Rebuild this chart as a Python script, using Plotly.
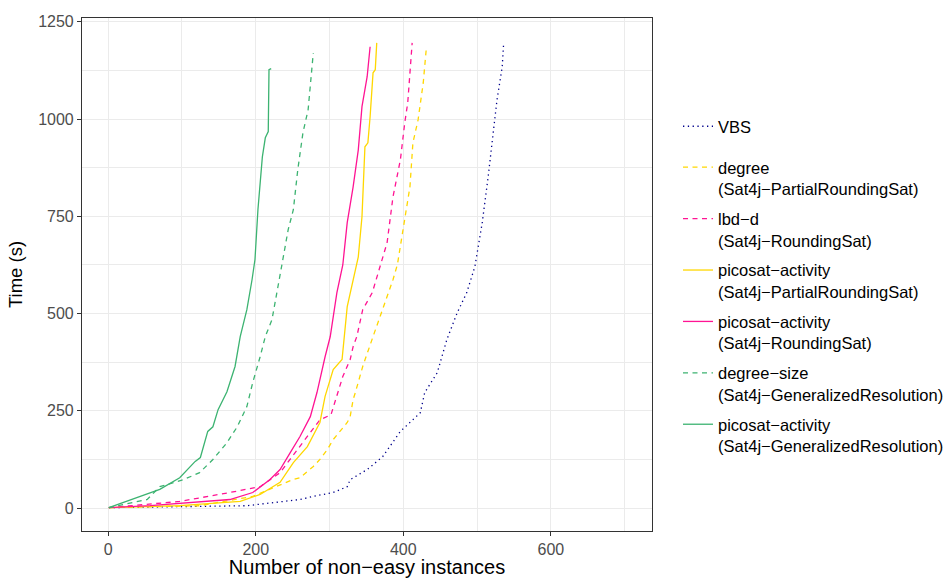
import plotly.graph_objects as go

# ---- data ----
vbs_x = [1, 97, 188, 260, 278, 305, 324, 328, 351, 372, 396, 423, 429, 446, 459, 473, 486, 497, 507, 515, 520, 527, 534, 536]
vbs_y = [1, 4, 6, 22, 30, 40, 55, 73, 99, 132, 197, 245, 297, 348, 433, 502, 554, 621, 734, 852, 939, 1050, 1134, 1196]

deg_prs_x = [1, 124, 196, 250, 260, 278, 287, 297, 305, 324, 328, 332, 335, 345, 359, 372, 386, 392, 400, 409, 413, 420, 427, 431]
deg_prs_y = [1, 6, 30, 73, 78, 107, 125, 150, 176, 220, 235, 279, 297, 364, 441, 510, 587, 626, 716, 826, 939, 998, 1093, 1178]

lbd_rs_x = [1, 97, 165, 206, 233, 260, 287, 302, 314, 318, 328, 332, 337, 345, 358, 368, 378, 386, 396, 402, 406, 412]
lbd_rs_y = [1, 17, 40, 55, 91, 158, 227, 240, 312, 338, 382, 415, 441, 510, 554, 618, 682, 800, 895, 991, 1042, 1196]

pico_prs_x = [1, 97, 179, 206, 233, 251, 270, 287, 294, 305, 317, 324, 339, 344, 348, 352, 355, 359, 362, 364]
pico_prs_y = [1, 6, 17, 35, 66, 117, 158, 220, 287, 356, 382, 518, 646, 749, 929, 939, 1006, 1119, 1127, 1196]

pico_rs_x = [1, 57, 165, 196, 219, 233, 247, 260, 274, 283, 294, 301, 310, 318, 324, 332, 339, 344, 351, 352, 355]
pico_rs_y = [1, 6, 22, 40, 73, 99, 143, 184, 235, 297, 389, 441, 554, 625, 734, 826, 921, 1032, 1109, 1127, 1186]

degsz_gr_x = [1, 53, 70, 102, 124, 142, 161, 175, 188, 196, 206, 213, 222, 229, 236, 244, 251, 257, 264, 271, 274, 278]
degsz_gr_y = [1, 22, 55, 73, 91, 125, 168, 209, 261, 323, 389, 441, 484, 554, 631, 716, 767, 870, 965, 1024, 1083, 1170]

pico_gr_x = [1, 70, 97, 118, 125, 135, 142, 149, 161, 172, 179, 188, 195, 199, 203, 209, 213, 217, 218, 221]
pico_gr_y = [1, 48, 78, 120, 130, 197, 209, 253, 299, 364, 441, 510, 587, 639, 767, 903, 952, 968, 1127, 1130]

x_ticks = [0, 200, 400, 600]
x_minor = [100, 300, 500, 700]
y_ticks = [0, 250, 500, 750, 1000, 1250]
y_minor = [125, 375, 625, 875, 1125]

YELLOW = "#FFD700"
PINK = "#FF1493"
GREEN = "#3CB371"
NAVY = "#00008B"
DASH = "5px,4.5px"
DOT = "1.3px,3.5px"

series = [
    ("VBS", vbs_x, vbs_y, NAVY, DOT, "legend"),
    ("degree<br>(Sat4j\u2212PartialRoundingSat)", deg_prs_x, deg_prs_y, YELLOW, DASH, "legend2"),
    ("lbd\u2212d<br>(Sat4j\u2212RoundingSat)", lbd_rs_x, lbd_rs_y, PINK, DASH, "legend2"),
    ("picosat\u2212activity<br>(Sat4j\u2212PartialRoundingSat)", pico_prs_x, pico_prs_y, YELLOW, "solid", "legend2"),
    ("picosat\u2212activity<br>(Sat4j\u2212RoundingSat)", pico_rs_x, pico_rs_y, PINK, "solid", "legend2"),
    ("degree\u2212size<br>(Sat4j\u2212GeneralizedResolution)", degsz_gr_x, degsz_gr_y, GREEN, DASH, "legend2"),
    ("picosat\u2212activity<br>(Sat4j\u2212GeneralizedResolution)", pico_gr_x, pico_gr_y, GREEN, "solid", "legend2"),
]

fig = go.Figure()
for i, (name, xs, ys, col, dash, lg) in enumerate(series):
    fig.add_trace(go.Scatter(
        x=xs, y=ys, mode="lines", name=name,
        line=dict(color=col, width=1.3, dash=dash),
        legend=lg, legendgroup="g%d" % i, showlegend=True,
    ))

FONT = "Liberation Sans, Arial, sans-serif"
axis_common = dict(
    showgrid=True, gridcolor="#ebebeb", gridwidth=1.1,
    showline=True, linecolor="#333333", linewidth=1.1, mirror=True,
    ticks="outside", ticklen=4, tickcolor="#333333", tickwidth=1.1,
    tickfont=dict(size=16, color="#4d4d4d", family=FONT),
    zeroline=False, automargin=False,
)

W, H = 952, 578
fig.update_layout(
    width=W, height=H,
    margin=dict(l=82, r=300, t=18, b=47),
    paper_bgcolor="white", plot_bgcolor="white",
    font=dict(family=FONT, color="black"),
    showlegend=True,
    xaxis=dict(
        range=[-35.4, 737], tickvals=x_ticks,
        minor=dict(tickvals=x_minor, showgrid=True, gridcolor="#ebebeb", gridwidth=0.6),
        title=dict(text="Number of non\u2212easy instances", font=dict(size=20, family=FONT, color="black"), standoff=10),
        **axis_common,
    ),
    yaxis=dict(
        range=[-59, 1260], tickvals=y_ticks,
        minor=dict(tickvals=y_minor, showgrid=True, gridcolor="#ebebeb", gridwidth=0.6),
        title=dict(text="Time (s)", font=dict(size=18.5, family=FONT, color="black"), standoff=10),
        **axis_common,
    ),
    legend=dict(
        xref="container", yref="container",
        x=678 / W, xanchor="left", y=1 - 109 / H, yanchor="top",
        font=dict(size=16.5, family=FONT, color="black"),
        bgcolor="rgba(0,0,0,0)", valign="top", tracegroupgap=0,
        maxheight=500,
    ),
    legend2=dict(
        xref="container", yref="container",
        x=678 / W, xanchor="left", y=1 - 150 / H, yanchor="top",
        font=dict(size=16.5, family=FONT, color="black"),
        bgcolor="rgba(0,0,0,0)", valign="top", tracegroupgap=5.5,
        maxheight=500,
    ),
)

fig.write_html(
    "out.html",
    config={"displayModeBar": False},
    post_script="document.body.style.margin='0';document.body.style.overflow='hidden';",
)
